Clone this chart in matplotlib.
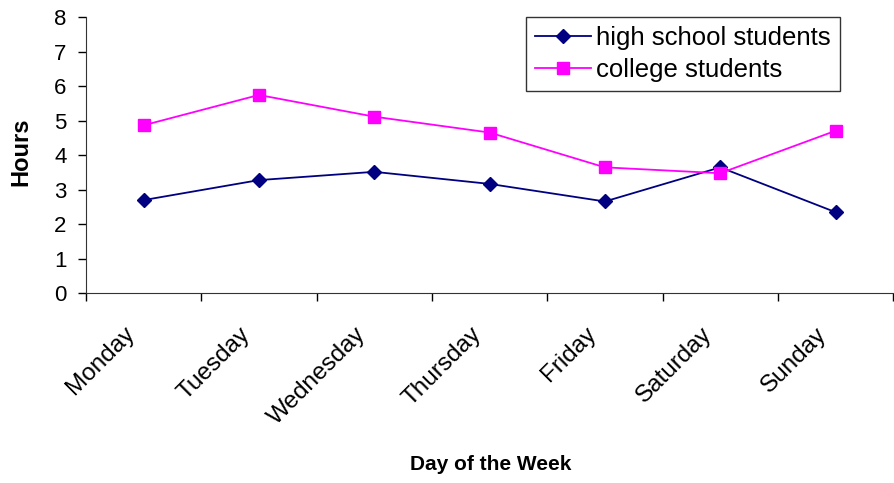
import numpy as np
import matplotlib
matplotlib.use("Agg")
from matplotlib import pyplot as plt
from matplotlib.transforms import ScaledTranslation

plt.rcParams['font.family'] = ['Liberation Sans', 'DejaVu Sans']

# data
days = ["Monday", "Tuesday", "Wednesday", "Thursday", "Friday", "Saturday", "Sunday"]
high_school = [2.70, 3.28, 3.52, 3.17, 2.66, 3.65, 2.35]
college = [4.87, 5.75, 5.12, 4.66, 3.65, 3.48, 4.71]

fig = plt.figure(figsize=(8.95, 4.83), dpi=100)
ax = fig.add_axes([0.096, 0.393, 0.902, 0.571])

x = np.arange(len(days))
ax.plot(x, high_school, color='#000080', marker='D', markersize=7, linewidth=1.3,
        label='high school students')
ax.plot(x, college, color='#FF00FF', marker='s', markersize=8.5, linewidth=1.3,
        label='college students')

ax.set_xlim(-0.5, len(days) - 0.5)
ax.set_ylim(0, 8)
ax.set_yticks(range(0, 9))
ax.tick_params(axis='y', labelsize=16, length=6, width=1, pad=8)

# ticks between the categories, labels under the centres
ax.set_xticks(np.arange(-0.5, len(days), 1.0))
ax.set_xticklabels([])
ax.tick_params(axis='x', which='major', length=6, width=1)
ax.set_xticks(x, minor=True)
ax.set_xticklabels(days, minor=True, rotation=45, ha='right', va='center',
                   rotation_mode='anchor', fontsize=17.5)
ax.tick_params(axis='x', which='minor', length=0, pad=27)
shift = ScaledTranslation(-12 / 100, 0, fig.dpi_scale_trans)
for lab in ax.get_xticklabels(minor=True):
    lab.set_transform(lab.get_transform() + shift)

ax.spines['top'].set_visible(False)
ax.spines['right'].set_visible(False)
ax.spines['left'].set_color('#333333')
ax.spines['bottom'].set_color('#333333')

ax.set_ylabel('Hours', fontsize=17, fontweight='bold', va='center', ha='center')
ax.yaxis.set_label_coords(-0.08, 0.512)
fig.text(491 / 895, 1 - 470 / 483, 'Day of the Week', fontsize=15, fontweight='bold', ha='center')

leg = ax.legend(loc='upper right', bbox_to_anchor=(0.934, 1.0), borderaxespad=0, fontsize=18.5,
                frameon=True, fancybox=False, edgecolor='black', borderpad=0.35,
                handlelength=2.2, handletextpad=0.2, labelspacing=0.3)
leg.get_frame().set_linewidth(1)

fig.savefig('out.png', dpi=100)
